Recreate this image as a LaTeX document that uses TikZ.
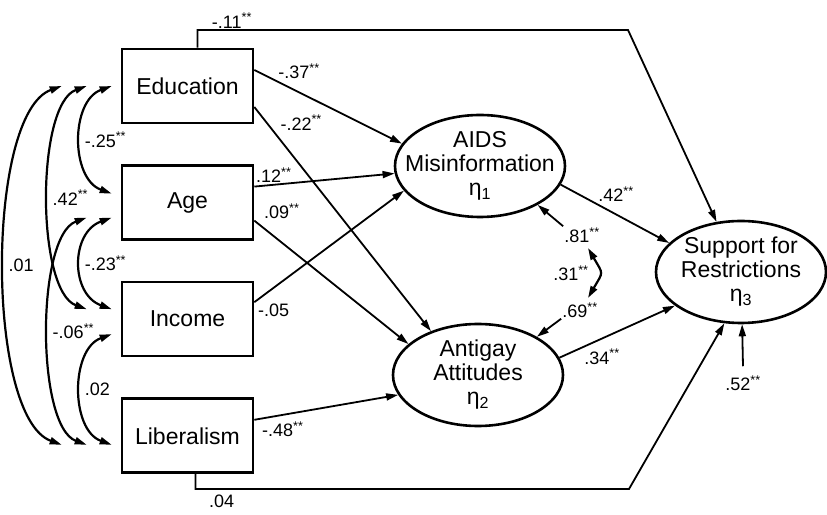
\documentclass[tikz,border=0pt]{standalone}
\usepackage{fontspec}
\setmainfont{Liberation Sans}
\usetikzlibrary{arrows.meta,positioning,shapes.geometric}
\tikzset{observed/.style={rectangle, draw, line width=2.6pt, minimum width=131pt, minimum height=74pt, font=\fontsize{23}{24}\selectfont}}
\tikzset{latent/.style={ellipse, draw, line width=2.6pt, minimum width=170pt, minimum height=102pt, inner xsep=-22pt, inner ysep=-20pt, align=center, font=\fontsize{23}{24}\selectfont}}
\tikzset{effect/.style={line width=1.8pt, -{Triangle[length=12pt,width=7pt]}}}
\tikzset{covar/.style={line width=2.2pt, {Triangle[length=12pt,width=7pt]}-{Triangle[length=12pt,width=7pt]}}}
\tikzset{coef/.style={font=\fontsize{18}{18}\selectfont, inner sep=1pt}}
\newcommand{\twostar}{\textsuperscript{**}}

\begin{document}
\begin{tikzpicture}[x=1pt,y=1pt]
\useasboundingbox (0,0) rectangle (827,514);

% exogenous variables
\node[observed] (edu) at (187.5,428) {Education};
\node[observed, below=40pt of edu] (age) {Age};
\node[observed, below=40pt of age] (inc) {Income};
\node[observed, below=40pt of inc] (lib) {Liberalism};

% latent variables
\node[latent] (mis) at (480,348) {AIDS\\Misinformation\\η\textsubscript{1}};
\node[latent] (att) at (478,139) {Antigay\\Attitudes\\η\textsubscript{2}};
\node[latent] (sup) at (741,242) {Support for\\Restrictions\\η\textsubscript{3}};

% residual terms
\node[coef] (r1) at (582,279) {.81\twostar};
\node[coef] (r2) at (580,204) {.69\twostar};
\node[coef] (r3) at (743,131) {.52\twostar};
\coordinate (d1) at (588,266);
\coordinate (d2) at (588,216);
\coordinate (ctop) at (628,484);
\coordinate (cbot) at (629,25);

% correlations among exogenous variables
\draw[covar] ([xshift=-59pt]edu.west) to[out=200,in=160,distance=81pt] node[coef, right=2pt] {.01} ([xshift=-59pt,yshift=-9pt]lib.west);
\draw[covar] ([xshift=-34pt]edu.west) to[out=200,in=160,distance=54pt] node[coef, right=2pt] {.42\twostar} ([xshift=-34pt,yshift=10pt]inc.west);
\draw[covar] ([xshift=-34pt,yshift=-15pt]age.west) to[out=200,in=160,distance=54pt] node[coef, right=2pt] {-.06\twostar} ([xshift=-34pt,yshift=-9pt]lib.west);
\draw[covar] ([xshift=-9pt]edu.west) to[out=200,in=160,distance=44pt] node[coef, right=2pt] {-.25\twostar} ([xshift=-9pt,yshift=9pt]age.west);
\draw[covar] ([xshift=-9pt,yshift=-15pt]age.west) to[out=200,in=160,distance=44pt] node[coef, right=2pt] {-.23\twostar} ([xshift=-9pt,yshift=10pt]inc.west);
\draw[covar] ([xshift=-9pt,yshift=-15pt]inc.west) to[out=200,in=160,distance=44pt] node[coef, right=2pt] {.02} ([xshift=-9pt,yshift=-9pt]lib.west);

% paths
\draw[effect] ([yshift=16pt]edu.east) -- node[coef, pos=.15, anchor=south west] {-.37\twostar} (mis.164);
\draw[effect] ([yshift=-21pt]edu.east) -- node[coef, pos=.07, anchor=west, xshift=12pt] {-.22\twostar} (att.137);
\draw[effect] ([yshift=16pt]age.east) -- node[coef, pos=0, anchor=south west, yshift=2pt] {.12\twostar} (mis.185);
\draw[effect] ([yshift=-18pt]age.east) -- node[coef, pos=0, anchor=south west, xshift=8pt] {.09\twostar} (att.156);
\draw[effect] ([yshift=17pt]inc.east) -- node[coef, pos=0, anchor=north west, xshift=2pt] {-.05} (mis.198);
\draw[effect] ([yshift=16pt]lib.east) -- node[coef, pos=0, anchor=north west, xshift=6pt] {-.48\twostar} (att.194);
\draw[effect] (mis.347) -- node[coef, pos=.33, anchor=south west] {.42\twostar} (sup.158);
\draw[effect] (att.12) -- node[coef, pos=.2, anchor=north west] {.34\twostar} (sup.207);
\draw[effect] ([xshift=10pt]edu.north) |- node[coef, pos=.54, above] {-.11\twostar} (ctop) -- (sup.116);
\draw[effect] ([xshift=8pt]lib.south) |- node[coef, pos=.53, below=4pt] {.04} (cbot) -- (sup.252);

% disturbances
\draw[effect] (r1.north west) -- (mis.326);
\draw[effect] (r2.south west) -- (att.33);
\draw[effect] ([yshift=8pt]r3.north) -- (sup);
\draw[covar] (d1) to[out=-60,in=60,looseness=1.6] node[coef, left=9pt] {.31\twostar} (d2);
\end{tikzpicture}
\end{document}
